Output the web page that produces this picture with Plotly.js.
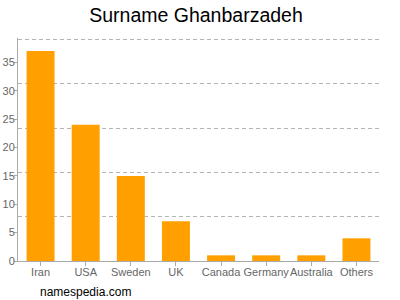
<!DOCTYPE html>
<html><head><meta charset="utf-8">
<script src="https://cdn.plot.ly/plotly-3.0.1.min.js"></script>
<style>body{margin:0;background:#fff}#c{width:400px;height:300px}</style>
</head><body><div id="c"></div>
<script>
const categories = ["Iran","USA","Sweden","UK","Canada","Germany","Australia","Others"];
const counts = [37, 24, 15, 7, 1, 1, 1, 4];
const yTicks = [0,5,10,15,20,25,30,35];
const yMax = 39.3;
const gridVals = [7.8, 15.6, 23.4, 31.2, 39];

const data = [
  {type:'bar', x:categories, y:counts, marker:{color:'#ffa000'}, hoverinfo:'none'},
  {type:'scatter', x:[categories[0]], y:[0], yaxis:'y2', mode:'markers', marker:{opacity:0}, hoverinfo:'none', showlegend:false}
];
const layout = {
  width:400, height:300,
  margin:{l:17.5, r:21, t:38.3, b:39, autoexpand:false},
  paper_bgcolor:'#fff', plot_bgcolor:'rgba(0,0,0,0)',
  showlegend:false, bargap:0.38,
  title:{text:'Surname Ghanbarzadeh', x:0.49, xanchor:'center', y:0.95, yanchor:'middle',
         font:{family:'Liberation Sans, Arial, sans-serif', size:19.5, color:'#000'}},
  font:{family:'Liberation Sans, Arial, sans-serif', size:11, color:'#666'},
  xaxis:{showline:true, linecolor:'#aaa', linewidth:1, ticks:'outside', ticklen:4, tickcolor:'#aaa',
         tickangle:0, automargin:false, ticklabelstandoff:-3,
         showgrid:false, zeroline:false, tickfont:{size:11, color:'#666'}},
  yaxis:{range:[0,yMax], tickvals:yTicks, showline:true, linecolor:'#aaa', linewidth:1, automargin:false,
         ticks:'outside', ticklen:3, tickcolor:'#aaa', showgrid:false, zeroline:false, ticklabelstandoff:-3,
         tickfont:{size:11, color:'#666'}},
  yaxis2:{range:[0,yMax], overlaying:'y', tickvals:gridVals, showticklabels:false, ticks:'',
          showgrid:true, gridcolor:'#b5b5b5', griddash:'4px,3px', gridwidth:1, zeroline:false, showline:false},
  annotations:[{text:'namespedia.com', xref:'paper', yref:'paper', x:0.055, y:-0.14, xanchor:'left', yanchor:'middle',
                showarrow:false, font:{family:'Liberation Sans, Arial, sans-serif', size:12, color:'#000'}}]
};
Plotly.newPlot('c', data, layout, {staticPlot:true, displayModeBar:false});
</script></body></html>
